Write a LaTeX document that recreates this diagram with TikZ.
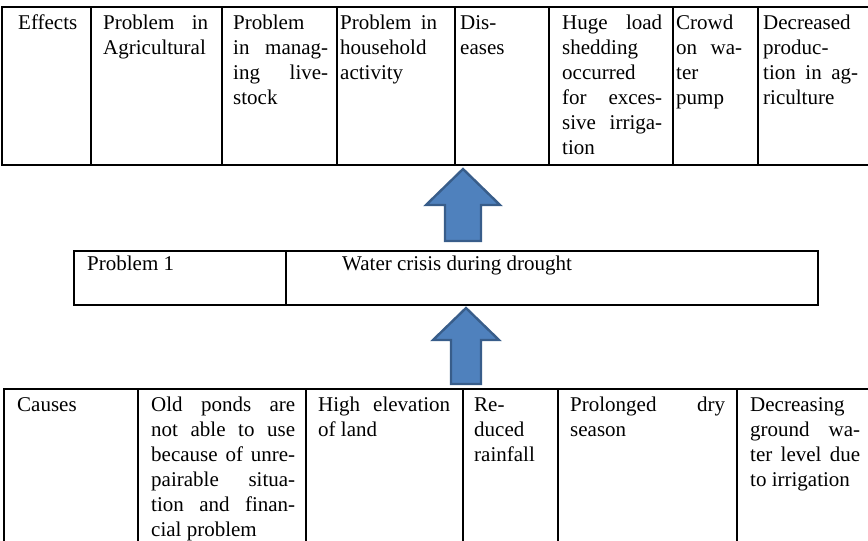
\documentclass[tikz,border=0pt]{standalone}
\usepackage{fontspec}
\setmainfont{Liberation Serif}
\usetikzlibrary{positioning}
\definecolor{arrowfill}{RGB}{79,129,189}
\definecolor{arrowline}{RGB}{56,93,138}
\tolerance=10000
\hbadness=10000
\hyphenpenalty=10000

\begin{document}
\begin{tikzpicture}[x=1pt,y=-1pt]
	\tikzset{cell/.style={draw,line width=1.6pt,anchor=north west,inner sep=0pt,outer sep=0pt},
		celltext/.style={anchor=base west,inner sep=0pt,align=justify,font=\fontsize{21}{25}\selectfont},
		blockarrow/.style={fill=arrowfill,draw=arrowline,line width=2.4pt}}
	\useasboundingbox (0,0) rectangle (868,541);
	% effects
	\foreach \x/\w/\n in {2/89/eff, 91/131/agri, 222/115/live, 337/118/house, 455/94/dis, 549/124/load, 673/85/pump, 758/111/prod}
		\node [cell, minimum width=\w pt, minimum height=158pt] (\n) at (\x,7) {};
	\node [celltext, text width=64pt] (efftext) at (18,29) {Effects};
	\node [celltext, text width=105pt] (agritext) at (103,29) {Problem in\linebreak Agricultural};
	\node [celltext, text width=95pt] (livetext) at (233,29) {Problem\linebreak in manag-\linebreak ing live-\linebreak stock};
	\node [celltext, text width=97pt] (housetext) at (340,29) {Problem in\linebreak household\linebreak activity};
	\node [celltext, text width=80pt] (distext) at (460,29) {Dis-\linebreak eases};
	\node [celltext, text width=100pt] (loadtext) at (562,29) {Huge load\linebreak shedding\linebreak occurred\linebreak for exces-\linebreak sive irriga-\linebreak tion};
	\node [celltext, text width=66pt] (pumptext) at (676,29) {Crowd\linebreak on wa-\linebreak ter\linebreak pump};
	\node [celltext, text width=95pt] (prodtext) at (763,29) {Decreased\linebreak produc-\linebreak tion in ag-\linebreak riculture};
	% problem
	\node [cell, minimum width=212pt, minimum height=54pt] (prob) at (74,251) {};
	\node [cell, minimum width=532pt, minimum height=54pt] (crisis) at (286,251) {};
	\node [celltext] (probtext) at (87,270) {Problem 1};
	\node [celltext] (crisistext) at (342,270) {Water crisis during drought};
	% causes
	\foreach \x/\w/\n in {4/134/cau, 138/168/pond, 306/157/elev, 463/95/rain, 558/179/dry, 737/132/ground}
		\node [cell, minimum width=\w pt, minimum height=170pt] (\n) at (\x,389) {};
	\node [celltext, text width=100pt] (cautext) at (17,411) {Causes};
	\node [celltext, text width=144pt] (pondtext) at (151,411) {Old ponds are\linebreak not able to use\linebreak because of unre-\linebreak pairable situa-\linebreak tion and finan-\linebreak cial problem};
	\node [celltext, text width=132pt] (elevtext) at (318,411) {High elevation\linebreak of land};
	\node [celltext, text width=80pt] (raintext) at (474,411) {Re-\linebreak duced\linebreak rainfall};
	\node [celltext, text width=155pt] (drytext) at (570,411) {Prolonged dry\linebreak season};
	\node [celltext, text width=110pt] (groundtext) at (750,411) {Decreasing\linebreak ground wa-\linebreak ter level due\linebreak to irrigation};
	% block arrows
	\coordinate (uptip) at (463,169);
	\coordinate (lowtip) at (466,308);
	\draw [blockarrow] (uptip) -- ++(37,36) -- ++(-19,0) -- ++(0,36) -- ++(-36,0) -- ++(0,-36) -- ++(-19,0) -- cycle;
	\draw [blockarrow] (lowtip) -- ++(33,32) -- ++(-18,0) -- ++(0,44) -- ++(-30,0) -- ++(0,-44) -- ++(-18,0) -- cycle;
\end{tikzpicture}
\end{document}
